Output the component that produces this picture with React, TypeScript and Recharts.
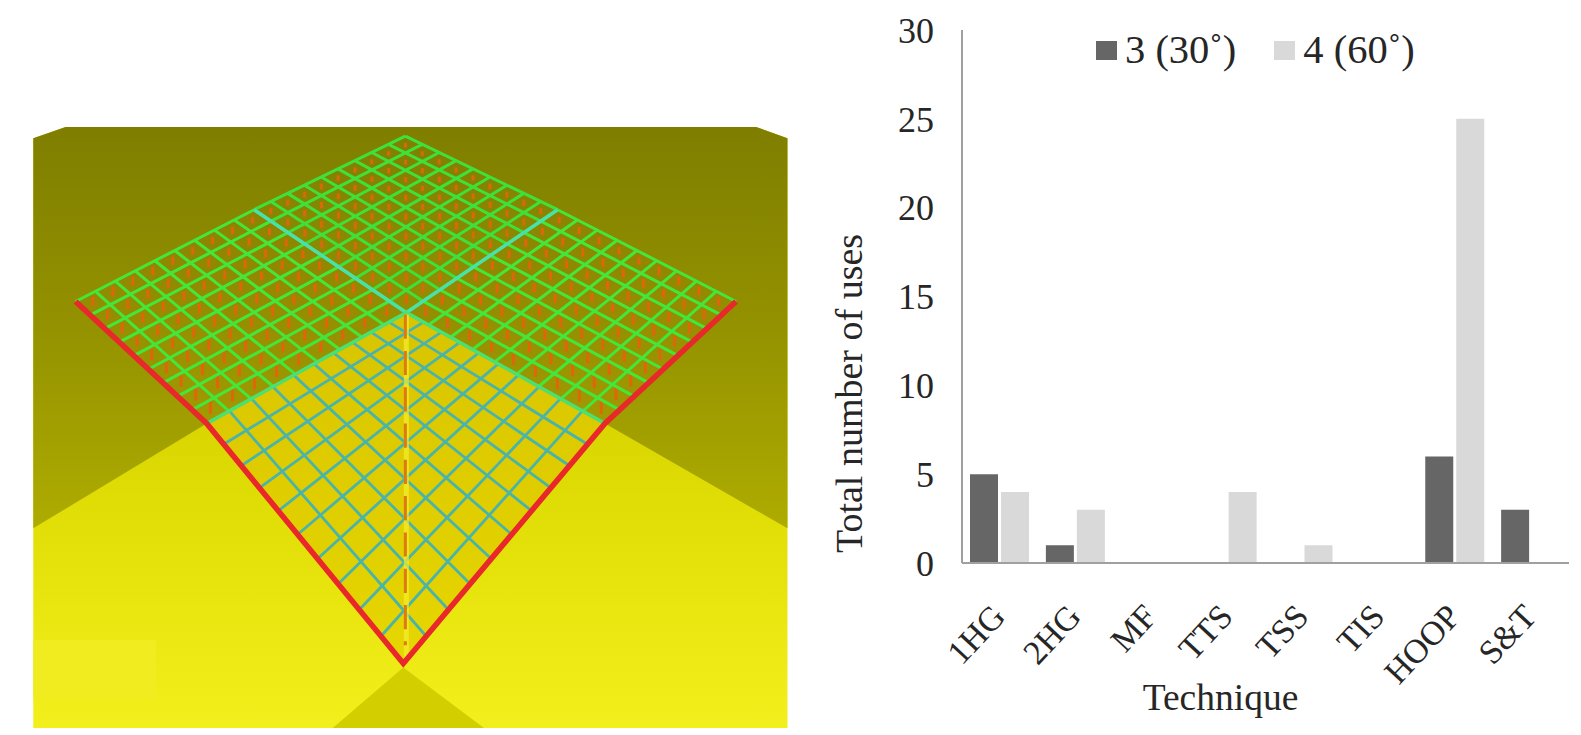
import { BarChart, Bar, XAxis, YAxis } from 'recharts'

const categories = ['1HG', '2HG', 'MF', 'TTS', 'TSS', 'TIS', 'HOOP', 'S&T']
const series30 = [5, 1, 0, 0, 0, 0, 6, 3]
const series60 = [4, 3, 0, 4, 1, 0, 25, 0]
const yTicks = [0, 5, 10, 15, 20, 25, 30]

const data = categories.map((name, i) => ({ name, a: series30[i], b: series60[i] }))

const serif = '"Liberation Serif", "Times New Roman", serif'
const ink = '#262626'

type P = [number, number]
const T: P = [402, 135]
const L: P = [75, 299]
const R: P = [730, 299]
const B: P = [400, 658]
const C: P = [403, 310]
const M: P = [205, 420]
const N: P = [600, 420]
const PL: P = [252, 208]
const PR: P = [553, 208]

const mix = (a: P, b: P, t: number): P => [a[0] + (b[0] - a[0]) * t, a[1] + (b[1] - a[1]) * t]
const pts = (...list: P[]) => list.map(p => p.join(',')).join(' ')
const flat = (t: number) => t
// cells get a bit bigger towards the viewer
const near = (t: number) => 0.85 * t + 0.15 * t * t

// grid lines of a four sided patch, a->b split in nu and a->d split in nv
const gridPath = (a: P, b: P, c: P, d: P, nu: number, nv: number, warp = flat) => {
  let s = ''
  for (let i = 0; i <= nu; i++) {
    const p = mix(a, b, warp(i / nu))
    const q = mix(d, c, warp(i / nu))
    s += `M${p[0]} ${p[1]}L${q[0]} ${q[1]}`
  }
  for (let j = 0; j <= nv; j++) {
    const p = mix(a, d, warp(j / nv))
    const q = mix(b, c, warp(j / nv))
    s += `M${p[0]} ${p[1]}L${q[0]} ${q[1]}`
  }
  return s
}

// little orange spikes sitting in the middle of each cell
const spikes = (a: P, b: P, c: P, d: P, nu: number, nv: number, warp = flat) => {
  let s = ''
  for (let i = 0; i < nu; i++) {
    for (let j = 0; j < nv; j++) {
      const u = warp((i + 0.5) / nu)
      const v = warp((j + 0.5) / nv)
      const p = mix(mix(a, b, u), mix(d, c, u), v)
      const len = 4 + ((p[1] - 135) / 285) * 9
      s += `M${p[0]} ${p[1] + 3}L${p[0]} ${p[1] + 3 - len}`
    }
  }
  return s
}

const Scene = () => (
  <svg width={1581} height={735} style={{ position: 'absolute', left: 0, top: 0, filter: 'blur(0.7px)' }}>
    <defs>
      <linearGradient id="wall" x1="0" y1="126" x2="0" y2="524" gradientUnits="userSpaceOnUse">
        <stop offset="0" stopColor="#7f7e00" />
        <stop offset="0.5" stopColor="#949200" />
        <stop offset="1" stopColor="#aeac00" />
      </linearGradient>
      <linearGradient id="floor" x1="0" y1="420" x2="0" y2="722" gradientUnits="userSpaceOnUse">
        <stop offset="0" stopColor="#d8d500" />
        <stop offset="0.5" stopColor="#e6e30c" />
        <stop offset="1" stopColor="#f2ef1c" />
      </linearGradient>
      <linearGradient id="diamond" x1="0" y1="310" x2="0" y2="658" gradientUnits="userSpaceOnUse">
        <stop offset="0" stopColor="#d8c400" />
        <stop offset="1" stopColor="#e6d600" />
      </linearGradient>
    </defs>
    <g transform={`scale(${1581 / 1568})`}>
      <polygon points={pts([33, 137], [65, 126], [750, 126], [781, 137], [781, 722], [33, 722])} fill="url(#floor)" />
      <polygon points={pts([33, 137], [65, 126], [750, 126], [781, 137], [781, 524], [600, 420], [403, 310], [205, 420], [33, 524])} fill="url(#wall)" />
      <polygon points={pts(PL, L, M, C)} fill="#b56a00" opacity={0.06} />
      <polygon points={pts(PR, R, N, C)} fill="#b56a00" opacity={0.06} />
      <polygon points={pts(C, M, B, N)} fill="url(#diamond)" />
      <polygon points={pts([400, 662], [480, 722], [330, 722])} fill="#d2ce00" />
      <rect x={33} y={635} width={122} height={58} fill="#f0ec20" />

      <path d={spikes(PL, L, M, C, 9, 9)} stroke="#e0660c" strokeWidth={3} />
      <path d={spikes(PR, R, N, C, 9, 9)} stroke="#e0660c" strokeWidth={3} />
      <path d={spikes(T, PL, C, PR, 9, 9)} stroke="#d86a0c" strokeWidth={3} />

      <path d={gridPath(T, PL, C, PR, 9, 9)} stroke="#3fe03a" strokeWidth={3} fill="none" />
      <path d={gridPath(PL, L, M, C, 9, 9)} stroke="#44e63a" strokeWidth={3} fill="none" />
      <path d={gridPath(PR, R, N, C, 9, 9)} stroke="#44e63a" strokeWidth={3} fill="none" />
      <path d={gridPath(C, M, B, N, 10, 10, near)} stroke="#4ab4a8" strokeWidth={2.8} fill="none" />
      <path d={`M${PL.join(' ')}L${C.join(' ')}L${PR.join(' ')}`} stroke="#4ae0ac" strokeWidth={3.4} fill="none" />
      <path d={`M${M.join(' ')}L${C.join(' ')}L${N.join(' ')}`} stroke="#4ce070" strokeWidth={3.4} fill="none" />

      <line x1={403} y1={312} x2={403} y2={652} stroke="#f6ee30" strokeWidth={5} opacity={0.7} />
      <line x1={402} y1={312} x2={402} y2={640} stroke="#dd7a10" strokeWidth={3} strokeDasharray="24 12" />
      <polyline points={pts(L, M, B, N, R)} fill="none" stroke="#e8282a" strokeWidth={5.5} strokeLinejoin="miter" />
    </g>
  </svg>
)

const CategoryTick = ({ x, y, payload }: any) => (
  <text
    transform={`translate(${x + 7},${y + 47}) rotate(-47)`}
    textAnchor="end"
    fontFamily={serif}
    fontSize={34}
    fill={ink}
  >
    {payload.value}
  </text>
)

const Legend2 = () => (
  <div
    style={{
      position: 'absolute',
      left: 1096,
      top: 27,
      display: 'flex',
      alignItems: 'center',
      fontFamily: serif,
      fontSize: 40.5,
      color: ink,
      lineHeight: '46px',
      whiteSpace: 'nowrap',
    }}
  >
    <span style={{ width: 21, height: 19, background: '#666666', marginRight: 8 }} />
    <span style={{ marginRight: 38 }}>3 (30˚)</span>
    <span style={{ width: 21, height: 19, background: '#d9d9d9', marginRight: 8 }} />
    <span>4 (60˚)</span>
  </div>
)

export default function App() {
  return (
    <div style={{ position: 'absolute', left: 0, top: 0, width: 1581, height: 735, background: '#fff', overflow: 'hidden' }}>
      <Scene />
      <div style={{ position: 'absolute', left: 0, top: 0 }}>
        <BarChart
          width={1581}
          height={735}
          data={data}
          margin={{ top: 30, right: 12, bottom: 22, left: 882 }}
          barSize={28}
          barGap={3}
        >
          <XAxis
            dataKey="name"
            height={150}
            interval={0}
            tickLine={false}
            axisLine={{ stroke: '#a0a0a0', strokeWidth: 2 }}
            tick={<CategoryTick />}
            label={{ value: 'Technique', position: 'insideBottom', offset: 0, dx: -45, dy: -3, fontFamily: serif, fontSize: 37.5, fill: ink }}
          />
          <YAxis
            width={80}
            domain={[0, 30]}
            ticks={yTicks}
            interval={0}
            tickLine={false}
            tickSize={0}
            tickMargin={28}
            axisLine={{ stroke: '#a0a0a0', strokeWidth: 2 }}
            tick={{ fontFamily: serif, fontSize: 36, fill: ink }}
            label={{ value: 'Total number of uses', angle: -90, position: 'center', dx: -73, dy: 97, fontFamily: serif, fontSize: 38, fill: ink }}
          />
          <Bar dataKey="a" name="3 (30˚)" fill="#666666" isAnimationActive={false} />
          <Bar dataKey="b" name="4 (60˚)" fill="#d9d9d9" isAnimationActive={false} />
        </BarChart>
      </div>
      <Legend2 />
    </div>
  )
}
